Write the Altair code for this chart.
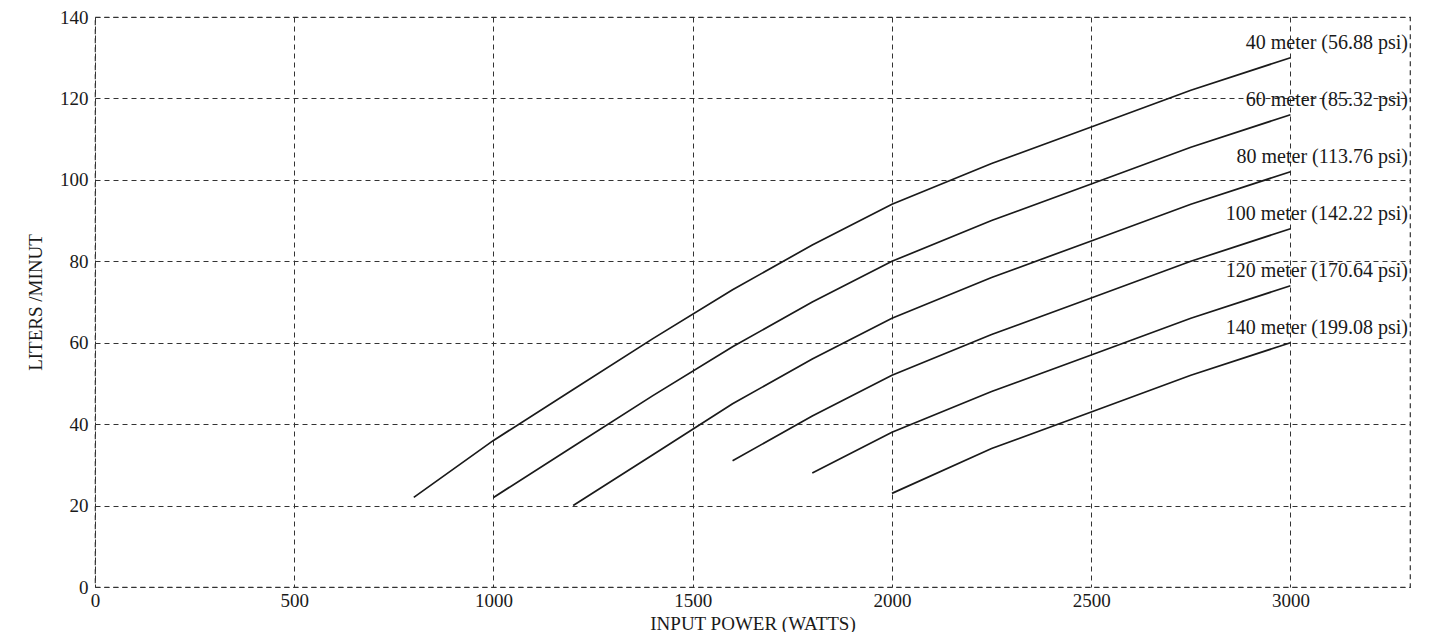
import altair as alt
import pandas as pd

# Series data
series_names = [
    "40 meter (56.88 psi)",
    "60 meter (85.32 psi)",
    "80 meter (113.76 psi)",
    "100 meter (142.22 psi)",
    "120 meter (170.64 psi)",
    "140 meter (199.08 psi)",
]
power_40 = [800, 1000, 1200, 1400, 1600, 1800, 2000, 2250, 2500, 2750, 3000]
lpm_40 = [22, 36, 48.5, 61, 73, 84, 94, 104, 113, 122, 130]
power_60 = [1000, 1200, 1400, 1600, 1800, 2000, 2250, 2500, 2750, 3000]
lpm_60 = [22, 34.5, 47, 59, 70, 80, 90, 99, 108, 116]
power_80 = [1200, 1400, 1600, 1800, 2000, 2250, 2500, 2750, 3000]
lpm_80 = [20, 32.5, 45, 56, 66, 76, 85, 94, 102]
power_100 = [1600, 1800, 2000, 2250, 2500, 2750, 3000]
lpm_100 = [31, 42, 52, 62, 71, 80, 88]
power_120 = [1800, 2000, 2250, 2500, 2750, 3000]
lpm_120 = [28, 38, 48, 57, 66, 74]
power_140 = [2000, 2250, 2500, 2750, 3000]
lpm_140 = [23, 34, 43, 52, 60]

x_ticks = [0, 500, 1000, 1500, 2000, 2500, 3000]
y_ticks = [0, 20, 40, 60, 80, 100, 120, 140]
x_max = 3300
y_max = 140
label_offset = 3.6

all_power = [power_40, power_60, power_80, power_100, power_120, power_140]
all_lpm = [lpm_40, lpm_60, lpm_80, lpm_100, lpm_120, lpm_140]

rows = []
labels = []
for name, xs, ys in zip(series_names, all_power, all_lpm):
    for i, (a, b) in enumerate(zip(xs, ys)):
        rows.append({"series": name, "power": a, "lpm": b, "order": i})
    labels.append({"series": name, "power": x_max, "lpm": ys[-1] + label_offset})
df = pd.DataFrame(rows)
lab = pd.DataFrame(labels)

FONT = "Liberation Serif"

xscale = alt.Scale(domain=[0, x_max], nice=False, zero=True)
yscale = alt.Scale(domain=[0, y_max], nice=False)

lines = alt.Chart(df).mark_line(color="#1a1a1a", strokeWidth=1.7).encode(
    x=alt.X("power:Q", scale=xscale,
            axis=alt.Axis(values=x_ticks, title="INPUT POWER (WATTS)", grid=True,
                          domain=False, ticks=False, labelPadding=4, titlePadding=4,
                          labelFlush=False, format="d")),
    y=alt.Y("lpm:Q", scale=yscale,
            axis=alt.Axis(values=y_ticks, title="LITERS /MINUT", grid=True,
                          domain=False, ticks=False, labelPadding=7, titlePadding=14,
                          labelFlush=False)),
    detail="series:N",
    order="order:Q",
)

text = alt.Chart(lab).mark_text(align="right", baseline="middle", dx=-2,
                                font=FONT, fontSize=20, color="#1a1a1a").encode(
    x=alt.X("power:Q", scale=xscale),
    y=alt.Y("lpm:Q", scale=yscale),
    text="series:N",
)

chart = (lines + text).properties(
    width=1315, height=570,
    autosize=alt.AutoSizeParams(type="none"),
    padding={"left": 87, "top": 9, "right": 20, "bottom": 45},
    background="white",
).configure_view(
    stroke="#333333", strokeDash=[5, 4], strokeWidth=1.2
).configure_axis(
    gridColor="#333333", gridDash=[5, 4], gridWidth=1, gridOpacity=1,
    labelFont=FONT, labelFontSize=19, labelColor="#1a1a1a",
    titleFont=FONT, titleFontSize=19, titleFontWeight="normal", titleColor="#1a1a1a",
)

chart.save("out.html", embed_options={"renderer": "svg", "actions": False})
